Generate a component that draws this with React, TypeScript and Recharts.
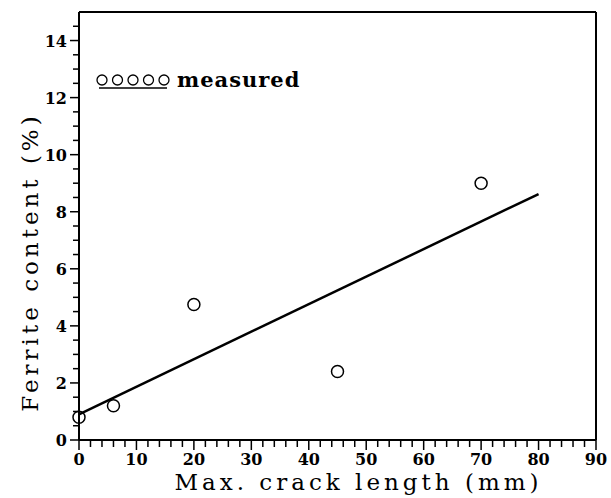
import React from "react";
import {
  ComposedChart,
  Scatter,
  Line,
  XAxis,
  YAxis,
  Legend,
  ReferenceLine,
  Label,
} from "recharts";

// measured points (crack length mm, ferrite %)
const measured = [
  { x: 0, y: 0.8 },
  { x: 6, y: 1.2 },
  { x: 20, y: 4.75 },
  { x: 45, y: 2.4 },
  { x: 70, y: 9.0 },
];

// fitted straight line, end points
const fit = [
  { x: 0, y: 0.9 },
  { x: 80, y: 8.62 },
];

const xTicks = [
  0, 2, 4, 6, 8, 10, 12, 14, 16, 18, 20, 22, 24, 26, 28, 30, 32, 34, 36, 38,
  40, 42, 44, 46, 48, 50, 52, 54, 56, 58, 60, 62, 64, 66, 68, 70, 72, 74, 76,
  78, 80, 82, 84, 86, 88, 90,
];
const yTicks = [
  0, 0.5, 1, 1.5, 2, 2.5, 3, 3.5, 4, 4.5, 5, 5.5, 6, 6.5, 7, 7.5, 8, 8.5, 9,
  9.5, 10, 10.5, 11, 11.5, 12, 12.5, 13, 13.5, 14, 14.5,
];

const tickFont = "'DejaVu Serif', serif";

function XTick(props: any) {
  const { x, y, payload } = props;
  const major = payload.value % 10 === 0;
  return (
    <g>
      <line x1={x} y1={y} x2={x} y2={y + (major ? 10 : 7)} stroke="#000" strokeWidth={1.5} />
      {major && (
        <text x={x} y={y + 25} textAnchor="middle" fontFamily={tickFont} fontWeight="bold" fontSize={16} fill="#000">
          {payload.value}
        </text>
      )}
    </g>
  );
}

function YTick(props: any) {
  const { x, y, payload } = props;
  const major = payload.value % 2 === 0;
  return (
    <g>
      <line x1={x - (major ? 9 : 6)} y1={y} x2={x} y2={y} stroke="#000" strokeWidth={1.5} />
      {major && (
        <text x={x - 12} y={y + 6} textAnchor="end" fontFamily={tickFont} fontWeight="bold" fontSize={16} fill="#000">
          {payload.value}
        </text>
      )}
    </g>
  );
}

function Ring(props: any) {
  const { cx, cy } = props;
  return <circle cx={cx} cy={cy} r={6} fill="none" stroke="#000" strokeWidth={1.5} />;
}

function LegendBox() {
  const rings = [0, 1, 2, 3, 4];
  return (
    <svg width={240} height={30}>
      {rings.map((i) => (
        <circle key={i} cx={8 + i * 15.5} cy={12} r={5} fill="none" stroke="#000" strokeWidth={1.3} />
      ))}
      <line x1={5} y1={20} x2={73} y2={20} stroke="#000" strokeWidth={1.5} />
      <text x={83} y={19} fontFamily={tickFont} fontWeight="bold" fontSize={21} letterSpacing={1} fill="#000">
        measured
      </text>
    </svg>
  );
}

const titleFont = "'DejaVu Serif', serif";

export default function App() {
  return (
    <div style={{ position: "absolute", left: 0, top: 0, background: "#fff" }}>
      <ComposedChart
        width={611}
        height={498}
        margin={{ top: 12, right: 15, bottom: 0, left: 0 }}
      >
        <XAxis
          dataKey="x"
          type="number"
          domain={[0, 90]}
          ticks={xTicks}
          interval={0}
          tickSize={0}
          tickMargin={0}
          tick={<XTick />}
          height={58}
          axisLine={{ stroke: "#000", strokeWidth: 2 }}
        >
          <Label
            content={(p: any) => (
              <text
                x={p.viewBox.x + p.viewBox.width / 2 + 21}
                y={p.viewBox.y + 50}
                textAnchor="middle"
                fontFamily={titleFont}
                fontSize={23}
                letterSpacing={4}
                fill="#000"
              >
                Max. crack length (mm)
              </text>
            )}
          />
        </XAxis>
        <YAxis
          dataKey="y"
          type="number"
          domain={[0, 15]}
          ticks={yTicks}
          interval={0}
          tickSize={0}
          tickMargin={0}
          tick={<YTick />}
          width={79}
          axisLine={{ stroke: "#000", strokeWidth: 2 }}
        >
          <Label
            content={(p: any) => {
              const cx = p.viewBox.x + 30;
              const cy = p.viewBox.y + p.viewBox.height / 2 + 36;
              return (
                <text
                  x={cx}
                  y={cy}
                  transform={`rotate(-90, ${cx}, ${cy})`}
                  textAnchor="middle"
                  dominantBaseline="central"
                  fontFamily={titleFont}
                  fontSize={23}
                  letterSpacing={4}
                  fill="#000"
                >
                  Ferrite content (%)
                </text>
              );
            }}
          />
        </YAxis>
        <ReferenceLine y={15} stroke="#000" strokeWidth={2} />
        <ReferenceLine x={90} stroke="#000" strokeWidth={2} />
        <Legend
          layout="horizontal"
          verticalAlign="middle"
          align="center"
          content={() => <LegendBox />}
          wrapperStyle={{ position: "absolute", left: 94, top: 68, width: 240 }}
        />
        <Line
          data={fit}
          dataKey="y"
          stroke="#000"
          strokeWidth={2.5}
          dot={false}
          legendType="none"
          isAnimationActive={false}
        />
        <Scatter
          data={measured}
          dataKey="y"
          shape={<Ring />}
          isAnimationActive={false}
        />
      </ComposedChart>
    </div>
  );
}
